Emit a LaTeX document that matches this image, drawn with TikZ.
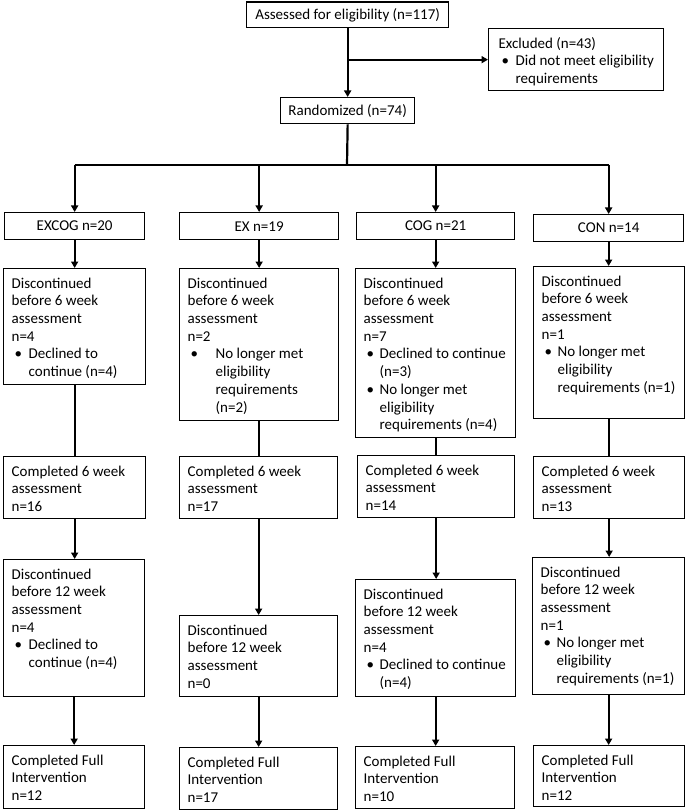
\documentclass[tikz,border=0pt]{standalone}
\usepackage{fontspec}
\setmainfont{Carlito}
\usetikzlibrary{arrows.meta}
\newcommand{\btext}[4][8]{\parbox[c][#3pt][t]{#2pt}{\raggedright\leftskip=#1pt\relax\rule{0pt}{19.5pt}#4}}
\newcommand{\bul}[1][17pt]{\makebox[#1][l]{\hspace{3pt}\textbullet}}
\newcommand{\ind}[1][17pt]{\hspace*{#1}}
\tikzset{
  box/.style={draw, line width=1.3pt, inner sep=0pt, anchor=north west,
    font=\fontsize{15pt}{17.7pt}\selectfont},
  cbox/.style={box, align=center},
  arr/.style={line width=2.2pt, -{Triangle[length=6.5pt,width=7pt]}},
  ln/.style={line width=2.2pt}
}
\begin{document}
\begin{tikzpicture}[x=1pt,y=-1pt]
\useasboundingbox (0,0) rectangle (685,810);
% top part
\node[cbox, minimum width=202pt, minimum height=25.5pt] (top) at (246,1.5) {Assessed for eligibility (n=117)};
\node[box] (excl) at (488,28) {\btext[10]{175}{62}{Excluded (n=43)\\\bul Did not meet eligibility\\\ind requirements}};
\node[cbox, minimum width=134pt, minimum height=26pt] (rand) at (280,97) {Randomized (n=74)};
% groups
\node[cbox, minimum width=140pt, minimum height=27pt] (g1) at (4,212) {EXCOG n=20};
\node[cbox, minimum width=159pt, minimum height=27pt] (g2) at (179,212) {EX n=19};
\node[cbox, minimum width=158pt, minimum height=27pt] (g3) at (356,212) {COG n=21};
\node[cbox, minimum width=150pt, minimum height=27pt] (g4) at (533,214) {CON n=14};
% discontinued before 6 week
\node[box] (d1) at (3,268) {\btext{142}{116}{Discontinued\\before 6 week\\assessment\\n=4\\\bul Declined to\\\ind continue (n=4)}};
\node[box] (d2) at (179,268) {\btext{159}{152}{Discontinued\\before 6 week\\assessment\\n=2\\\bul[28pt]No longer met\\\ind[28pt]eligibility\\\ind[28pt]requirements\\\ind[28pt](n=2)}};
\node[box] (d3) at (355,268) {\btext{160}{169}{Discontinued\\before 6 week\\assessment\\n=7\\\bul[16pt]Declined to continue\\\ind[16pt](n=3)\\\bul[16pt]No longer met\\\ind[16pt]eligibility\\\ind[16pt]requirements (n=4)}};
\node[box] (d4) at (533,266) {\btext{151}{152}{Discontinued\\before 6 week\\assessment\\n=1\\\bul[16pt]No longer met\\\ind[16pt]eligibility\\\ind[16pt]requirements (n=1)}};
% completed 6 week
\node[box] (c1) at (3,456) {\btext{142}{62}{Completed 6 week\\assessment\\n=16}};
\node[box] (c2) at (179,456) {\btext{158}{62}{Completed 6 week\\assessment\\n=17}};
\node[box] (c3) at (357,455) {\btext{157}{62}{Completed 6 week\\assessment\\n=14}};
\node[box] (c4) at (533,456) {\btext{151}{62}{Completed 6 week\\assessment\\n=13}};
% discontinued before 12 week
\node[box] (e1) at (3,559) {\btext{141}{137}{Discontinued\\before 12 week\\assessment\\n=4\\\bul Declined to\\\ind continue (n=4)}};
\node[box] (e2) at (179,615) {\btext{158}{81}{Discontinued\\before 12 week\\assessment\\n=0}};
\node[box] (e3) at (355,579) {\btext{160}{117}{Discontinued\\before 12 week\\assessment\\n=4\\\bul[16pt]Declined to continue\\\ind[16pt](n=4)}};
\node[box] (e4) at (532,557) {\btext{152}{137}{Discontinued\\before 12 week\\assessment\\n=1\\\bul[16pt]No longer met\\\ind[16pt]eligibility\\\ind[16pt]requirements (n=1)}};
% completed full
\node[box] (f1) at (3,745) {\btext{141}{63}{Completed Full\\Intervention\\n=12}};
\node[box] (f2) at (179,747) {\btext{158}{62}{Completed Full\\Intervention\\n=17}};
\node[box] (f3) at (355,746) {\btext{159}{62}{Completed Full\\Intervention\\n=10}};
\node[box] (f4) at (533,745) {\btext{151}{61}{Completed Full\\Intervention\\n=12}};
% connectors top
\draw[arr] (top.south) -- (top.south |- rand.north);
\draw[arr] (top.south |- excl.west) -- (excl.west);
\coordinate (hb) at (347,165);
\draw[ln] (top.south |- rand.south) -- (hb);
\draw[ln] (g1.north |- hb) -- (g4.north |- hb);
\foreach \g in {g1,g2,g3,g4} {\draw[arr] (\g.north |- hb) -- (\g.north);}
% columns
\foreach \g/\d in {g1/d1,g2/d2,g3/d3,g4/d4} {\draw[arr] (\g.south) -- (\g.south |- \d.north);}
\foreach \d/\c in {d1/c1,d2/c2,d3/c3,d4/c4} {\draw[ln] (\d.south) -- (\d.south |- \c.north);}
\foreach \c/\e in {c1/e1,c2/e2,c3/e3,c4/e4} {\draw[arr] (\c.south) -- (\c.south |- \e.north);}
\foreach \e/\f in {e1/f1,e2/f2,e3/f3,e4/f4} {\draw[arr] (\e.south) -- (\e.south |- \f.north);}
\end{tikzpicture}
\end{document}
